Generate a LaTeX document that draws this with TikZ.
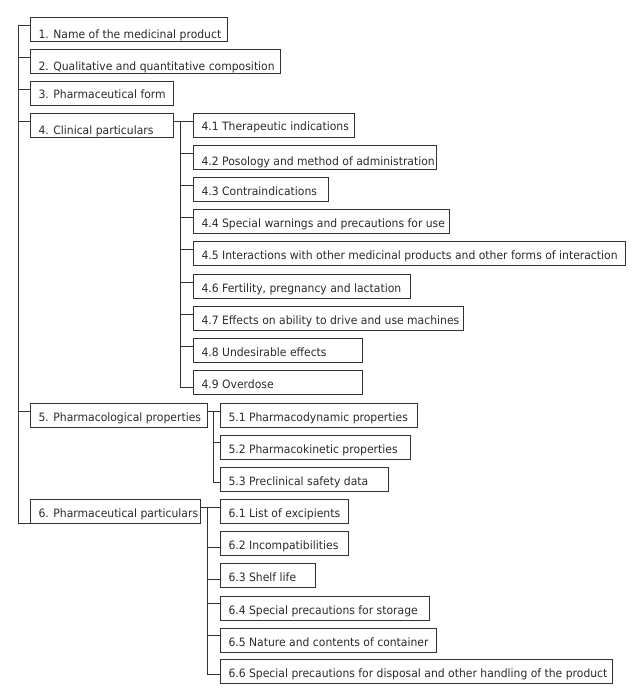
\documentclass[tikz,border=0pt]{standalone}
\usepackage{fontspec}
\setmainfont{DejaVu Sans}[FakeStretch=0.94]
\definecolor{lc}{HTML}{333333}
\definecolor{tc}{HTML}{2B2B2B}
\newcommand\mybx[2]{\makebox[#1bp][l]{#2}}
\tikzset{
  box/.style={draw=lc, line width=0.8bp, anchor=north west, minimum height=24bp,
    inner xsep=8.5bp, inner ysep=0pt, outer sep=0pt, text height=12bp, text depth=0bp,
    font=\fontsize{11.5bp}{13bp}\selectfont, text=tc},
  low/.style={text height=20bp},
  mid/.style={text height=16bp},
  conn/.style={draw=lc, line width=0.8bp}
}
\begin{document}
\begin{tikzpicture}[x=1bp,y=-1bp]
\useasboundingbox[fill=white] (0,0) rectangle (643,700);
% main boxes
\node[box,low] (b1) at (30,17) {\mybx{180}{1. Name of the medicinal product}};
\node[box,low] (b2) at (30,49) {\mybx{233}{2. Qualitative and quantitative composition}};
\node[box] (b3) at (30,81) {\mybx{126}{3. Pharmaceutical form}};
\node[box,low] (b4) at (30,113) {\mybx{126}{4. Clinical particulars}};
\node[box] (b5) at (30,403) {\mybx{160}{5. Pharmacological properties}};
\node[box] (b6) at (30,499) {\mybx{153}{6. Pharmaceutical particulars}};
% 4.x
\node[box] (c1) at (193,113) {\mybx{144}{4.1 Therapeutic indications}};
\node[box,mid] (c2) at (193,145.2) {\mybx{226}{4.2 Posology and method of administration}};
\node[box] (c3) at (193,177.4) {\mybx{118}{4.3 Contraindications}};
\node[box] (c4) at (193,209.6) {\mybx{239}{4.4 Special warnings and precautions for use}};
\node[box] (c5) at (193,241.8) {\mybx{415}{4.5 Interactions with other medicinal products and other forms of interaction}};
\node[box] (c6) at (193,274) {\mybx{200}{4.6 Fertility, pregnancy and lactation}};
\node[box] (c7) at (193,306.2) {\mybx{253}{4.7 Effects on ability to drive and use machines}};
\node[box] (c8) at (193,338.4) {\mybx{152}{4.8 Undesirable effects}};
\node[box] (c9) at (193,370.6) {\mybx{152}{4.9 Overdose}};
% 5.x
\node[box] (d1) at (220,403) {\mybx{180}{5.1 Pharmacodynamic properties}};
\node[box] (d2) at (220,435) {\mybx{173}{5.2 Pharmacokinetic properties}};
\node[box] (d3) at (220,467) {\mybx{151}{5.3 Preclinical safety data}};
% 6.x
\node[box] (e1) at (220,499) {\mybx{111}{6.1 List of excipients}};
\node[box] (e2) at (220,531) {\mybx{111}{6.2 Incompatibilities}};
\node[box] (e3) at (220,563) {\mybx{78}{6.3 Shelf life}};
\node[box] (e4) at (220,596) {\mybx{192}{6.4 Special precautions for storage}};
\node[box] (e5) at (220,628) {\mybx{199}{6.5 Nature and contents of container}};
\node[box] (e6) at (220,659) {\mybx{375}{6.6 Special precautions for disposal and other handling of the product}};
% trunk
\draw[conn] (b6.south west) -| ([xshift=-12bp,yshift=-8bp]b1.north west) -- ([yshift=-8bp]b1.north west);
\foreach \n in {b2,b3,b4,b5}
  \draw[conn] ([yshift=-8bp]\n.north west) -- ++(-12bp,0);
% 4.x branch
\draw[conn] ([yshift=-8bp]b4.north east) -- ([yshift=-8bp]c1.north west);
\draw[conn] ([xshift=-13bp,yshift=-8bp]c1.north west) |- ([yshift=-17bp]c9.north west);
\foreach \n in {c2,c3,c4,c5,c6,c7,c8}
  \draw[conn] ([yshift=-8bp]\n.north west) -- ++(-13bp,0);
% 5.x branch
\draw[conn] ([yshift=-8bp]b5.north east) -- ([yshift=-8bp]d1.north west);
\draw[conn] ([xshift=-7bp,yshift=-8bp]d1.north west) |- ([yshift=-15bp]d3.north west);
\draw[conn] ([yshift=-7bp]d2.north west) -- ++(-7bp,0);
% 6.x branch
\draw[conn] ([yshift=-8bp]b6.north east) -- ([yshift=-8bp]e1.north west);
\draw[conn] ([xshift=-13bp,yshift=-8bp]e1.north west) |- ([yshift=-15bp]e6.north west);
\draw[conn] ([yshift=-16bp]e2.north west) -- ++(-13bp,0);
\draw[conn] ([yshift=-16bp]e3.north west) -- ++(-13bp,0);
\draw[conn] ([yshift=-7bp]e4.north west) -- ++(-13bp,0);
\draw[conn] ([yshift=-7bp]e5.north west) -- ++(-13bp,0);
\end{tikzpicture}
\end{document}
